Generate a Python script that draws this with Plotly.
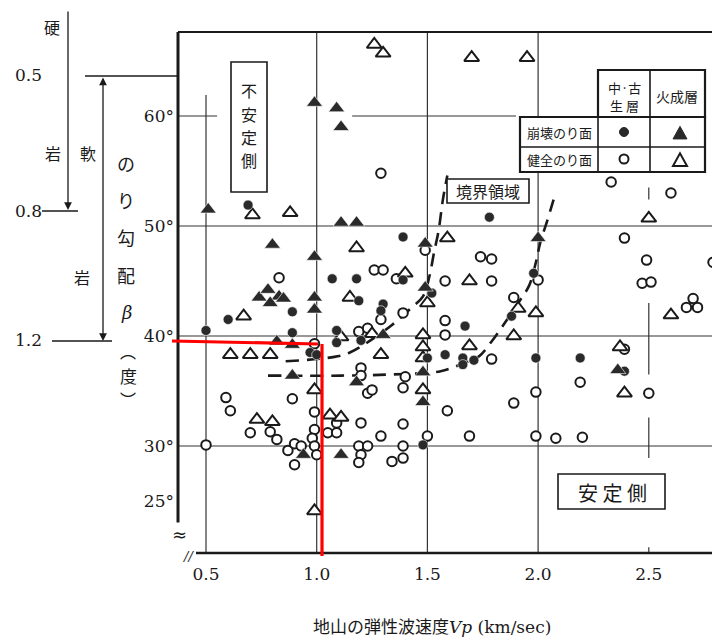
import plotly.graph_objects as go

# ---------------- data ----------------
# 中・古生層 崩壊のり面 (filled circle)
fc_x = [0.69, 1.78, 1.39, 1.07, 1.18, 0.89, 1.19, 0.60, 0.50, 0.89, 0.97, 1.00, 1.09, 1.09, 1.20,
        1.52, 1.30, 1.29, 1.67, 1.88, 1.98, 1.50, 1.58, 1.66, 1.66, 1.71, 1.99, 2.19, 2.39, 1.48, 1.39]
fc_y = [51.9, 50.8, 49.0, 45.2, 45.2, 42.2, 43.2, 41.5, 40.5, 40.3, 38.5, 38.3, 40.5, 39.4, 39.6,
        43.9, 42.9, 42.3, 40.9, 41.8, 45.7, 38.0, 38.3, 38.0, 37.4, 37.8, 38.0, 38.0, 36.8, 30.1, 45.1]

# 火成層 崩壊のり面 (filled triangle)
ft_x = [0.99, 1.09, 1.11, 0.51, 1.11, 1.18, 0.80, 0.99, 1.49, 2.00, 0.74, 0.78, 0.83, 0.79, 0.85,
        0.99, 0.99, 0.82, 0.89, 1.49, 1.30, 1.48, 0.89, 1.18, 1.48, 0.94, 1.11, 2.36]
ft_y = [61.2, 60.7, 59.0, 51.5, 50.3, 50.3, 48.3, 47.2, 48.4, 48.9, 43.5, 44.2, 43.6, 43.0, 43.4,
        43.5, 42.4, 39.5, 39.2, 44.4, 40.1, 36.7, 36.4, 35.8, 34.0, 29.2, 29.2, 36.9]

# 中・古生層 健全のり面 (open circle)
oc_x = [1.29, 2.33, 2.60, 1.49, 2.39, 2.49, 2.79, 1.74, 1.79, 1.26, 1.30, 1.36, 0.83, 1.58, 1.79,
        2.00, 2.47, 2.51, 2.67, 2.70, 2.72, 1.89, 1.39, 1.29, 1.58, 1.58, 0.99, 1.19, 1.23, 1.79,
        1.20, 1.20, 1.40, 1.39, 1.23, 1.25, 1.59, 1.89, 1.99, 2.19, 2.39, 2.50, 1.99, 2.08, 2.20,
        1.69, 1.50, 1.20, 1.29, 1.39, 1.19, 1.23, 1.20, 1.19, 1.39, 1.34, 1.39, 0.89, 0.99, 0.59,
        0.61, 0.70, 0.79, 0.82, 0.50, 0.87, 0.90, 0.93, 0.90, 0.99, 0.98, 0.99, 1.00, 1.05, 1.09,
        1.09]
oc_y = [54.8, 54.0, 53.0, 47.8, 48.9, 46.9, 46.7, 47.2, 47.0, 46.0, 46.0, 45.2, 45.3, 45.0, 45.0,
        45.1, 44.8, 44.9, 42.6, 43.4, 42.6, 43.5, 42.1, 41.5, 41.4, 40.1, 39.3, 40.4, 40.7, 37.9,
        37.1, 36.4, 36.3, 35.3, 34.8, 35.1, 33.2, 33.9, 34.9, 35.8, 38.8, 34.8, 30.9, 30.7, 30.8,
        30.9, 30.9, 32.1, 30.9, 32.0, 30.0, 30.0, 29.2, 28.5, 30.0, 28.6, 28.9, 34.3, 33.1, 34.4,
        33.2, 31.2, 31.3, 30.6, 30.1, 29.6, 30.2, 30.0, 28.3, 31.5, 30.7, 30.0, 29.2, 31.2, 31.2,
        32.1]

# 火成層 健全のり面 (open triangle)
ot_x = [1.26, 1.30, 1.70, 1.95, 0.71, 0.88, 1.59, 2.50, 1.18, 1.40, 1.69, 1.15, 0.67, 1.50, 1.91,
        1.99, 2.60, 1.89, 1.11, 1.25, 0.61, 0.70, 0.79, 1.48, 1.48, 1.48, 1.29, 1.69, 2.37, 2.39,
        0.99, 1.48, 0.73, 0.80, 1.06, 1.11, 0.99]
ot_y = [66.5, 65.7, 65.3, 65.3, 51.0, 51.2, 48.9, 50.7, 48.0, 45.7, 45.0, 43.5, 41.8, 43.0, 42.5,
        42.1, 41.9, 40.0, 39.9, 40.2, 38.3, 38.3, 38.3, 40.1, 39.0, 38.0, 38.3, 39.1, 39.0, 34.8,
        35.1, 35.1, 32.4, 32.2, 32.8, 32.6, 24.1]

# dashed boundary curves of 境界領域
curve1_x = [0.86, 1.08, 1.15, 1.22, 1.34, 1.43, 1.48, 1.51, 1.53, 1.55, 1.57, 1.59]
curve1_y = [37.7, 38.1, 38.5, 39.3, 41.0, 42.6, 43.6, 45.5, 47.6, 49.5, 52.4, 54.6]
curve2_x = [0.78, 1.11, 1.33, 1.56, 1.66, 1.73, 1.79, 1.85, 1.92, 1.96, 1.99, 2.01, 2.04, 2.07]
curve2_y = [36.4, 36.4, 36.5, 36.8, 37.5, 38.1, 39.5, 41.2, 43.3, 44.6, 46.7, 48.5, 50.4, 52.4]

x_ticks = [0.5, 1.0, 1.5, 2.0, 2.5]
x_tick_text = ["0.5", "1.0", "1.5", "2.0", "2.5"]
y_ticks = [25, 30, 40, 50, 60]
y_tick_text = ["25°", "30°", "40°", "50°", "60°"]
grid_x = [0.5, 1.0, 1.5, 2.0, 2.5]
grid_y = [30, 40, 50, 60]

# ---------------- layout helpers ----------------
# the page body has an 8px margin, so the figure is 712x629 and sits at (8, 8)
OFF = 8
W, H = 720 - OFF, 637 - OFF
PAGE_L, PAGE_T, PAGE_R, PAGE_B = 178, 32, 720, 553
L, T = PAGE_L - OFF, PAGE_T - OFF
R = W - (PAGE_R - OFF)
B = H - (PAGE_B - OFF)
PW = PAGE_R - PAGE_L
PH = PAGE_B - PAGE_T


def px(x):
    return (x - PAGE_L) / PW


def py(y):
    return (PAGE_B - y) / PH


X0, X1 = 0.5 + (178 - 206) / 221.4, 0.5 + (720 - 206) / 221.4
Y0, Y1 = 50 - (553 - 226) / 11.0, 50 + (226 - 32) / 11.0

SERIF = "DejaVu Serif"
JP = "Noto Sans CJK JP"
INK = "#1a1a1a"

fig = go.Figure()

# dashed curves
for cx, cy in [(curve1_x, curve1_y), (curve2_x, curve2_y)]:
    fig.add_trace(go.Scatter(x=cx, y=cy, mode="lines", line=dict(color=INK, width=2.6, dash="13px,8px", shape="spline"),
                             hoverinfo="skip", showlegend=False))

fig.add_trace(go.Scatter(x=oc_x, y=oc_y, mode="markers", name="健全のり面 中・古生層",
                         marker=dict(symbol="circle", size=9.5, color="white", line=dict(color=INK, width=2))))
fig.add_trace(go.Scatter(x=ot_x, y=ot_y, mode="markers", name="健全のり面 火成層",
                         marker=dict(symbol="triangle-up", size=13, color="white", line=dict(color=INK, width=2))))
fig.add_trace(go.Scatter(x=fc_x, y=fc_y, mode="markers", name="崩壊のり面 中・古生層",
                         marker=dict(symbol="circle", size=10, color="#2a2a2a", line=dict(color="white", width=0.6))))
fig.add_trace(go.Scatter(x=ft_x, y=ft_y, mode="markers", name="崩壊のり面 火成層",
                         marker=dict(symbol="triangle-up", size=14, color="#2a2a2a", line=dict(color="white", width=0.6))))

shapes = []
# grid lines (partial as in the figure)
vseg = {0.5: [(Y0, 61.9)], 1.0: [(Y0, Y1)], 1.5: [(Y0, Y1)], 2.0: [(Y0, Y1)],
        2.5: [(36.5, 43.0), (28.9, 32.6), (Y0, 20.8), (52.4, 53.5)]}
for gx in grid_x:
    for a, b in vseg[gx]:
        shapes.append(dict(type="line", xref="x", yref="y", x0=gx, x1=gx, y0=a, y1=b,
                           line=dict(color="#333", width=1.2), layer="below"))
hseg = {30: [(X0, X1)], 40: [(X0, X1)], 50: [(X0, X1)], 60: [(X0, 0.55), (1.16, 1.9)]}
for gy in grid_y:
    for a, b in hseg[gy]:
        shapes.append(dict(type="line", xref="x", yref="y", x0=a, x1=b, y0=gy, y1=gy,
                           line=dict(color="#333", width=1.2), layer="below"))


def pline(x0, y0, x1, y1, w=1.5, color=INK, layer="above"):
    shapes.append(dict(type="line", xref="paper", yref="paper", x0=px(x0), y0=py(y0), x1=px(x1), y1=py(y1),
                       line=dict(color=color, width=w), layer=layer))


def prect(x0, y0, x1, y1, w=1.5, fill="white"):
    shapes.append(dict(type="rect", xref="paper", yref="paper", x0=px(x0), y0=py(y1), x1=px(x1), y1=py(y0),
                       line=dict(color=INK, width=w), fillcolor=fill, layer="above"))


# frame
pline(178, 32, 178, 527, 3)
pline(178, 32, 720, 32, 2.2)
pline(196, 553, 720, 553, 2.6)

# left-side reference lines
pline(85, 76, 178, 76, 1.5)
pline(42, 211, 78, 211, 1.5)
pline(52, 341, 112, 341, 1.5)

# boxes
prect(231, 62, 267, 192, 1.6)
prect(447, 179, 529, 203, 1.6)
prect(558, 474, 665, 509, 1.6)

# legend table
prect(598, 70, 705, 117, 2.2)
prect(520, 117, 705, 172, 2.2)
pline(598, 117, 598, 172, 1.6)
pline(650, 70, 650, 172, 1.6)
pline(520, 147, 705, 147, 1.6)
shapes.append(dict(type="circle", xref="paper", yref="paper", x0=px(619.5), x1=px(628.5), y0=py(136.5), y1=py(127.5),
                   fillcolor="#2a2a2a", line=dict(color="#2a2a2a", width=1), layer="above"))
shapes.append(dict(type="circle", xref="paper", yref="paper", x0=px(619.5), x1=px(628.5), y0=py(163.5), y1=py(154.5),
                   fillcolor="white", line=dict(color=INK, width=2), layer="above"))


def tri_path(cx, cy, s):
    return (f"M {px(cx - s)} {py(cy + s * 0.85)} L {px(cx + s)} {py(cy + s * 0.85)} "
            f"L {px(cx)} {py(cy - s * 0.95)} Z")


shapes.append(dict(type="path", xref="paper", yref="paper", path=tri_path(680, 133, 7),
                   fillcolor="#2a2a2a", line=dict(color="#2a2a2a", width=1), layer="above"))
shapes.append(dict(type="path", xref="paper", yref="paper", path=tri_path(680, 160, 7),
                   fillcolor="white", line=dict(color=INK, width=2), layer="above"))

# red overlay lines
pline(172, 341, 318, 344, 3.2, color="#ff0000")
pline(322, 344, 322, 556, 3.2, color="#ff0000")

annotations = []


def txt(x, y, s, size=16, family=JP, **kw):
    annotations.append(dict(x=px(x), y=py(y), xref="paper", yref="paper", text=s, showarrow=False,
                            font=dict(family=family, size=size, color=INK), xanchor="center", yanchor="middle", **kw))


# left annotations
txt(52, 27, "硬", 16)
txt(28, 75, "0.5", 17, SERIF)
txt(53, 153, "岩", 16)
txt(88, 153, "軟", 16)
txt(28, 211, "0.8", 17, SERIF)
txt(82, 277, "岩", 16)
txt(28, 340, "1.2", 17, SERIF)
for ch, yy in zip(["の", "り", "勾", "配"], [163, 200, 237, 275]):
    txt(126, yy, ch, 18)
txt(126, 312, "<i>β</i>", 18, SERIF)
txt(128, 351, "︵", 16)
txt(128, 375, "度", 17)
txt(128, 399, "︶", 16)

# arrows
annotations.append(dict(x=px(68), y=py(210), xref="paper", yref="paper", ax=0, ay=-200, text="", showarrow=True,
                        arrowhead=2, arrowsize=1.2, arrowwidth=1.3, arrowcolor=INK))
annotations.append(dict(x=px(103), y=py(341), xref="paper", yref="paper", ax=0, ay=-265, text="", showarrow=True,
                        arrowhead=2, startarrowhead=2, arrowside="end+start", arrowsize=1.2, arrowwidth=1.3,
                        arrowcolor=INK))

# boxes text
for ch, yy in zip(["不", "安", "定", "側"], [90, 113.5, 137, 160.5]):
    txt(249, yy, ch, 16)
txt(488, 191, "境界領域", 16)
txt(612, 492, "安 定 側", 20)

# legend texts
txt(624, 87, "中·古", 13)
txt(624, 105, "生 層", 13)
txt(677, 96, "火成層", 14)
txt(559, 132, "崩壊のり面", 13)
txt(559, 159, "健全のり面", 13)

# axis breaks
txt(179, 534, "≈", 18, SERIF, bgcolor="white")
txt(188, 556, "<i>//</i>", 13, SERIF)

# x-axis title
txt(432, 625, "地山の弾性波速度<span style='font-family:DejaVu Serif'><i>Vp</i> (km/sec)</span>", 17)

fig.update_layout(
    width=W, height=H, margin=dict(l=L, r=R, t=T, b=B, autoexpand=False),
    plot_bgcolor="white", paper_bgcolor="white", showlegend=False,
    shapes=shapes, annotations=annotations,
    xaxis=dict(range=[X0, X1], tickvals=x_ticks, ticktext=x_tick_text, showgrid=False, zeroline=False,
               showline=False, ticks="", ticklabelstandoff=9,
               tickfont=dict(family=SERIF, size=17, color=INK)),
    yaxis=dict(range=[Y0, Y1], tickvals=y_ticks, ticktext=y_tick_text, showgrid=False, zeroline=False,
               showline=False, ticks="", ticklabelstandoff=3,
               tickfont=dict(family=SERIF, size=17, color=INK)),
)

fig.write_html("out.html")
